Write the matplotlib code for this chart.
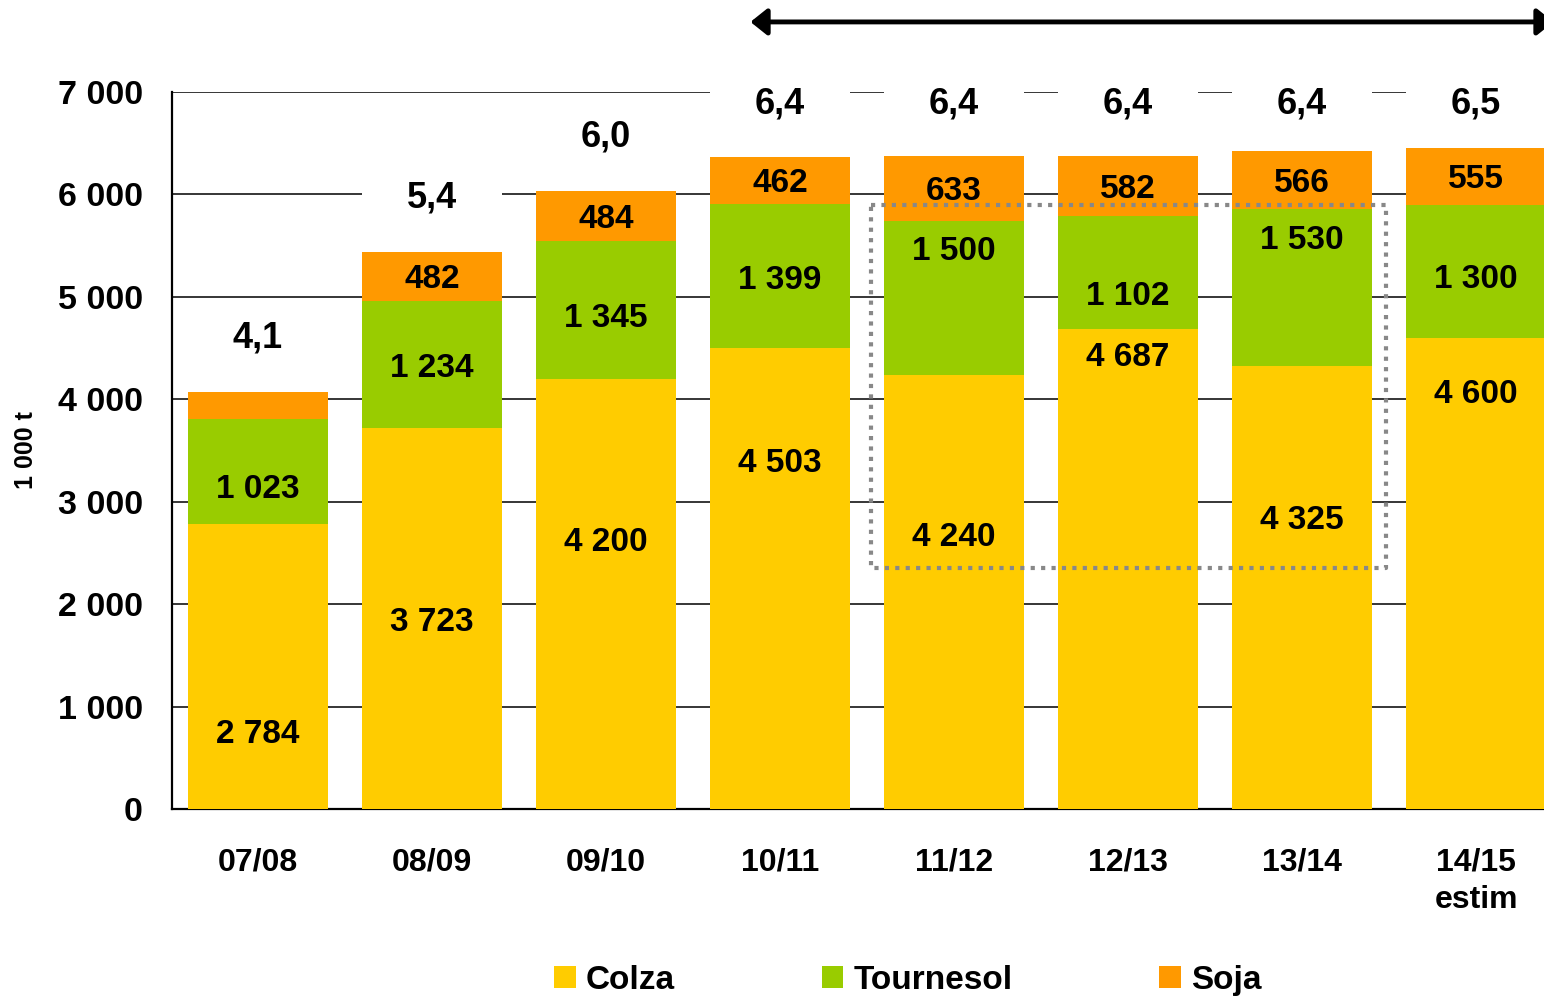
import matplotlib.pyplot as plt
import matplotlib.ticker as ticker
import numpy as np

# Oilseed production by campaign (1 000 t)
campagnes = ['07/08', '08/09', '09/10', '10/11', '11/12', '12/13', '13/14', '14/15\nestim']
colza = [2784, 3723, 4200, 4503, 4240, 4687, 4325, 4600]
tournesol = [1023, 1234, 1345, 1399, 1500, 1102, 1530, 1300]
soja = [265, 482, 484, 462, 633, 582, 566, 555]

# where each value label sits inside its segment (fraction of segment height)
colza_lab = [0.26, 0.49, 0.62, 0.75, 0.625, 0.94, 0.65, 0.88]
tournesol_lab = [0.33, 0.47, 0.44, 0.47, 0.80, 0.29, 0.80, 0.44]
soja_shown = [False, True, True, True, True, True, True, True]

YELLOW = '#FFCC00'
GREEN = '#99CC00'
ORANGE = '#FF9900'

plt.rcParams['font.family'] = ['Liberation Sans', 'DejaVu Sans']
plt.rcParams['font.weight'] = 'bold'

fig = plt.figure(figsize=(15.44, 9.97), dpi=100)
ax = fig.add_axes([0.1114, 0.1886, 0.8886, 0.7192])

x = np.arange(len(campagnes))
colza = np.array(colza)
tournesol = np.array(tournesol)
soja = np.array(soja)
width = 0.805

ax.bar(x, colza, width, color=YELLOW, zorder=3, label='Colza')
ax.bar(x, tournesol, width, bottom=colza, color=GREEN, zorder=3, label='Tournesol')
ax.bar(x, soja, width, bottom=colza + tournesol, color=ORANGE, zorder=3, label='Soja')


def fmt(v):
    return f'{int(v):,}'.replace(',', ' ')


lab_kw = dict(ha='center', va='center', fontsize=24, fontweight='bold', zorder=5)
for i in x:
    ax.text(i, colza[i] * colza_lab[i], fmt(colza[i]), **lab_kw)
    ax.text(i, colza[i] + tournesol[i] * tournesol_lab[i], fmt(tournesol[i]), **lab_kw)
    if soja_shown[i]:
        ax.text(i, colza[i] + tournesol[i] + soja[i] / 2 - 30, fmt(soja[i]), **lab_kw)

# totals in million tonnes above each bar, on a white patch hiding the grid
totals = colza + tournesol + soja
tot_y = np.minimum(totals + 530, 6880)
ax.bar(x, 400, width, bottom=tot_y - 200, color='white', zorder=1)
for i in x:
    tenths = (int(totals[i]) + 50) // 100
    ax.text(i, tot_y[i], f'{tenths // 10},{tenths % 10}', ha='center', va='center',
            fontsize=26, fontweight='bold', zorder=2)

# axes
ax.set_xlim(-0.494, 7.39)
ax.set_ylim(0, 7000)
ax.set_yticks(np.arange(0, 7001, 1000))
ax.yaxis.set_major_formatter(ticker.FuncFormatter(lambda v, _: fmt(v)))
ax.set_xticks(x)
ax.set_xticklabels(campagnes, linespacing=1.3)
ax.tick_params(axis='y', length=0, pad=21, labelsize=24.5)
ax.tick_params(axis='x', length=0, pad=28, labelsize=23)
ax.yaxis.grid(True, color='black', lw=1.1, zorder=0.5)
ax.set_axisbelow(True)
for side in ['top', 'right']:
    ax.spines[side].set_visible(False)
for side in ['left', 'bottom']:
    ax.spines[side].set_linewidth(1.6)
    ax.spines[side].set_color('black')
ax.set_ylabel('1 000 t', fontsize=18, fontweight='bold', labelpad=14)

# dotted frame around 11/12 - 13/14
ax.plot([3.52, 6.48, 6.48, 3.52, 3.52], [5900, 5900, 2350, 2350, 5900],
        color='#888888', lw=3, linestyle=(0, (1, 1.5)), zorder=6,
        solid_capstyle='butt', dash_capstyle='butt')

# double arrow across the top, its right end running off the figure
ax.annotate('', xy=(7.445, 0.978), xytext=(2.83, 0.978),
            xycoords=('data', 'figure fraction'), textcoords=('data', 'figure fraction'),
            annotation_clip=False,
            arrowprops=dict(arrowstyle='<|-|>,head_length=0.5,head_width=0.4',
                            mutation_scale=20, lw=3.5, color='black',
                            shrinkA=0, shrinkB=0))

handles, labels = ax.get_legend_handles_labels()
fig.legend(handles, labels, loc='center', bbox_to_anchor=(0.588, 0.017), ncol=3,
           frameon=False, fontsize=24, handlelength=0.65, handleheight=0.65,
           handletextpad=0.3, columnspacing=4.4)

plt.savefig('out.png', dpi=100)
